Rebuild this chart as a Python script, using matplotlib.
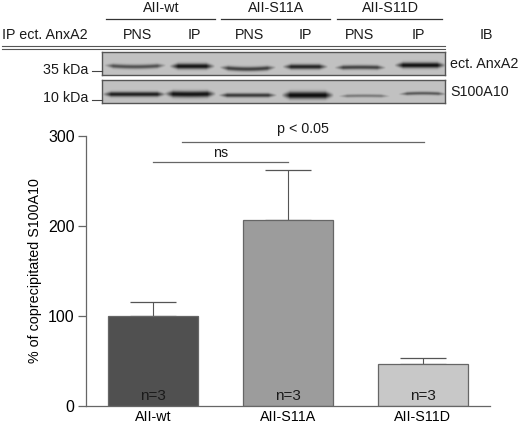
#!/usr/bin/env python3
# bar chart of coprecipitated S100A10 with the blot panel above it
import numpy as np
import matplotlib
matplotlib.use("Agg")
import matplotlib.pyplot as plt

plt.rcParams.update({
    "font.family": ["Liberation Sans", "DejaVu Sans"], "font.size": 10.3,
    "text.color": "#1a1a1a",
})

W, H = 520, 424

categories = ["AII-wt", "AII-S11A", "AII-S11D"]
values = [100, 207, 46.5]
err_top = [116, 262, 54]
bar_colors = ["#505050", "#9c9c9c", "#c8c8c8"]
n_labels = ["n=3", "n=3", "n=3"]
y_ticks = [0, 100, 200, 300]

lanes = ["PNS", "IP", "PNS", "IP", "PNS", "IP"]
# bands: x0, x1, y centre at the ends, half thickness, darkness, sag (pixels of the blot crop)
bands_anxa2 = [
    (104, 166, 65.0, 2.1, 0.62, 1.5), (169, 215, 66.0, 2.7, 0.95, 0.0),
    (219, 276, 67.0, 2.2, 0.72, 1.8), (282, 328, 66.5, 2.4, 0.88, 0.0),
    (334, 386, 67.5, 2.1, 0.70, -0.5), (394, 446, 65.0, 2.7, 0.98, 0.0),
]
bands_s100 = [
    (102, 166, 94.0, 2.4, 0.90, 0.0), (164, 216, 93.5, 3.0, 0.96, 0.5),
    (218, 277, 95.0, 2.0, 0.76, 0.0), (281, 334, 95.0, 3.4, 1.00, 0.0),
    (338, 390, 96.0, 1.5, 0.40, -0.5), (398, 447, 94.0, 1.6, 0.58, -1.0),
]


def px_axes(fig, x0, y0, x1, y1):
    """axes from pixel box, y counted from the top"""
    return fig.add_axes([x0 / W, 1 - y1 / H, (x1 - x0) / W, (y1 - y0) / H])


def blot(fig, box, bands):
    x0, y0, x1, y1 = box
    ax = px_axes(fig, x0, y0, x1, y1)
    xs = np.arange(x0, x1, 0.5)
    ys = np.arange(y0, y1, 0.5)
    X, Y = np.meshgrid(xs, ys)
    img = np.full(X.shape, 0.76)
    for bx0, bx1, yc, hw, dark, sag in bands:
        mid, half = (bx0 + bx1) / 2, (bx1 - bx0) / 2
        u = np.clip((X - mid) / half, -1, 1)
        prof = np.clip((1 - np.abs(u)) * half / 9, 0, 1)
        centre = yc + sag * (1 - u ** 2)
        thick = hw * (0.45 + 0.55 * prof)
        img -= (img - 0.05) * dark * prof * np.exp(-((Y - centre) / thick) ** 2)
    ax.imshow(img, cmap="gray", vmin=0, vmax=1, aspect="auto",
              extent=(x0, x1, y1, y0), interpolation="bilinear")
    ax.set_xticks([]); ax.set_yticks([])
    for s in ax.spines.values():
        s.set_color("#555555"); s.set_linewidth(1.0)
    return ax


fig = plt.figure(figsize=(W / 100, H / 100), dpi=100, facecolor="white")

# full figure overlay in pixel coords for the labels and header rules
ov = fig.add_axes([0, 0, 1, 1], zorder=5)
ov.set_xlim(0, W); ov.set_ylim(H, 0); ov.axis("off")

for x0, x1, name in [(106, 215, categories[0]), (221, 330, categories[1]), (337, 442, categories[2])]:
    ov.plot([x0, x1], [19, 19], color="#333333", lw=0.9)
    ov.text((x0 + x1) / 2 + 0.5, 8.5, name, ha="center", va="center")
for x, lab in zip([138, 194, 250, 305, 360, 418], lanes):
    ov.text(x, 35, lab, ha="center", va="center")
ov.text(2, 35, "IP ect. AnxA2", ha="left", va="center")
ov.text(486, 35, "IB", ha="center", va="center")
ov.plot([2, 445], [46, 46], color="#555555", lw=0.8)
ov.plot([2, 445], [49, 49], color="#555555", lw=0.8)
ov.text(88, 69.5, "35 kDa", ha="right", va="center")
ov.text(88, 98, "10 kDa", ha="right", va="center")
ov.plot([92, 102], [70.5, 70.5], color="#444444", lw=0.8)
ov.plot([92, 102], [99.5, 99.5], color="#444444", lw=0.8)
ov.text(450, 64, "ect. AnxA2", ha="left", va="center")
ov.text(450, 92, "S100A10", ha="left", va="center")

# significance brackets
ov.plot([153, 288], [161.5, 161.5], color="#666666", lw=0.9)
ov.text(220.5, 153, "ns", ha="center", va="center")
ov.plot([182, 424], [142, 142], color="#666666", lw=0.9)
ov.text(303, 129.5, "p < 0.05", ha="center", va="center")

blot(fig, (102, 52, 445, 75), bands_anxa2)
blot(fig, (102, 80, 445, 103), bands_s100)

# bar panel
ax = px_axes(fig, 85.5, 135.7, 490, 406.3)
x = np.arange(len(categories))
errs = [t - v for t, v in zip(err_top, values)]
ax.bar(x, values, width=0.667, color=bar_colors, edgecolor="#666666", linewidth=0.9, zorder=2)
ax.errorbar(x, values, yerr=[[0, 0, 0], errs], fmt="none", ecolor="#555555",
            elinewidth=0.8, capsize=16.3, capthick=0.9, zorder=1)
for xi, lab in zip(x, n_labels):
    ax.text(xi, 11.8, lab, ha="center", va="center", fontsize=11, color="#1a1a1a", zorder=3)
ax.set_xlim(-0.5, 2.5)
ax.set_ylim(0, 300)
ax.set_yticks(y_ticks)
ax.set_xticks(x)
ax.set_xticklabels(categories)
ax.set_ylabel("% of coprecipitated S100A10", fontsize=10.3, labelpad=4)
ax.tick_params(axis="y", length=5.8, width=0.9, color="#666666", pad=2, labelsize=11.5)
ax.tick_params(axis="x", length=0, pad=3)
for s in ["top", "right"]:
    ax.spines[s].set_visible(False)
for s in ["left", "bottom"]:
    ax.spines[s].set_color("#666666")
    ax.spines[s].set_linewidth(0.9)

fig.savefig("out.png", dpi=100, facecolor="white")
plt.close(fig)
